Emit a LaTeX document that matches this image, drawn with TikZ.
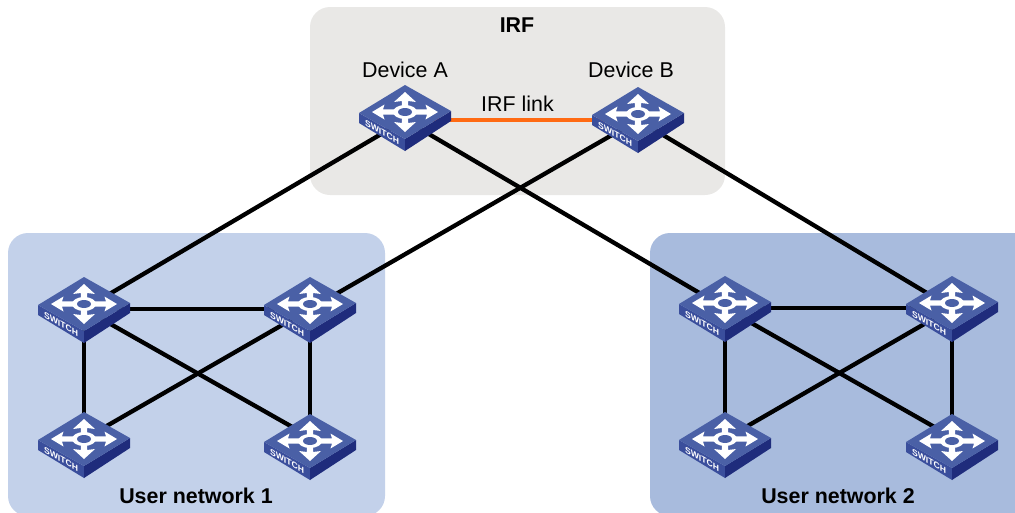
\documentclass[tikz,border=0pt]{standalone}
\usepackage{fontspec}
\setmainfont{Liberation Sans}
\definecolor{irfbg}{HTML}{E9E8E6}
\definecolor{netone}{HTML}{C3D1EA}
\definecolor{nettwo}{HTML}{A8BBDD}
\definecolor{swtop}{HTML}{4A60A6}
\definecolor{swleft}{HTML}{3A4E9C}
\definecolor{swright}{HTML}{1F2C7C}
\definecolor{irfcol}{HTML}{FF6A13}
\tikzset{
  panel/.style={rounded corners=20pt,draw=none},
  linkline/.style={draw=black,line width=4.3pt},
  irfline/.style={draw=irfcol,line width=4.5pt},
  lab/.style={font=\fontsize{21.4}{24}\selectfont,inner sep=0pt,text=black},
  blab/.style={font=\bfseries\fontsize{21.4}{24}\selectfont,inner sep=0pt,text=black},
  switch/.pic={
    \fill[swleft] (-46,1) -- (0,27) -- (0,39) -- (-46,11) -- cycle;
    \fill[swright] (46,-1) -- (0,27) -- (0,39) -- (46,9) -- cycle;
    \fill[swtop] (0,-27) -- (46,-1) -- (0,27) -- (-46,1) -- cycle;
    \fill[white] (-3.2,-5) -- (-3.2,-11) -- (-11,-10) -- (0,-20) -- (11,-10) -- (3.2,-11) -- (3.2,-5) -- cycle;
    \fill[white] (-3.2,5) -- (-3.2,11) -- (-11,10) -- (0,20) -- (11,10) -- (3.2,11) -- (3.2,5) -- cycle;
    \fill[white] (9,-2.6) -- (22,-2.6) -- (20.5,-7.5) -- (33,0) -- (20.5,7.5) -- (22,2.6) -- (9,2.6) -- cycle;
    \fill[white] (-9,-2.6) -- (-22,-2.6) -- (-20.5,-7.5) -- (-33,0) -- (-20.5,7.5) -- (-22,2.6) -- (-9,2.6) -- cycle;
    \fill[white] (0,0) ellipse [x radius=12,y radius=7];
    \fill[swtop] (0,0) ellipse [x radius=7,y radius=4];
    \node[cm={1,-.565,0,1,(0,0)},transform shape,font=\bfseries\fontsize{8.6}{9}\selectfont,text=white,inner sep=0pt] at (-23,20) {SWITCH};
  }
}
\begin{document}
\begin{tikzpicture}[x=1pt,y=-1pt]
\useasboundingbox (0,0) rectangle (1015,512);
\clip (0,0) rectangle (1015,512);
\fill[panel,irfbg] (310,7) rectangle (725,195);
\fill[panel,netone] (8,233) rectangle (385,516);
\fill[panel,nettwo] (650,233) rectangle (1040,516);
\node[coordinate] (a) at (405,120) {};
\node[coordinate] (b) at (638,120) {};
\node[coordinate] (p) at (84,309) {};
\node[coordinate] (q) at (310,309) {};
\node[coordinate] (r) at (84,439) {};
\node[coordinate] (s) at (310,437) {};
\node[coordinate] (t) at (725,308) {};
\node[coordinate] (u) at (952,308) {};
\node[coordinate] (v) at (725,439) {};
\node[coordinate] (w) at (952,437) {};
\draw[irfline] (a) -- (b);
\foreach \i/\j in {a/p,a/t,b/q,b/u,p/q,p/r,p/s,q/r,q/s,t/u,t/v,t/w,u/v,u/w}
  \draw[linkline] (\i) -- (\j);
\foreach \n/\d in {a/-8,b/-6,p/-5,q/-5,r/0,s/4,t/-5,u/-5,v/0,w/4}
  \pic[yshift=-\d pt] at (\n) {switch};
\node[blab] (irf) at (517,25) {IRF};
\node[lab] (da) at (405,70) {Device A};
\node[lab] (db) at (631,70) {Device B};
\node[lab] (il) at (517.5,104) {IRF link};
\node[blab] (n1) at (196,496) {User network 1};
\node[blab] (n2) at (838,496) {User network 2};
\end{tikzpicture}
\end{document}
